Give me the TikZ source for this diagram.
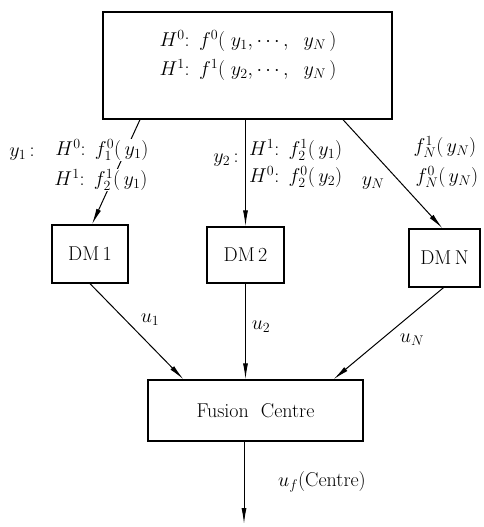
\documentclass[tikz,border=0pt]{standalone}
\usepackage{fix-cm}
\usetikzlibrary{arrows.meta,calc}
\begin{document}
\begin{tikzpicture}[x=1pt,y=-1pt,
  every node/.style={font=\fontsize{20}{24}\selectfont},
  box/.style={draw,line width=1.3pt,inner sep=0pt,anchor=center},
  conn/.style={line width=1pt,-{Latex[length=16pt,width=5pt]}},
  lbl/.style={inner sep=0pt},
  wlbl/.style={inner sep=0.5pt,fill=white}]
\useasboundingbox (0,0) rectangle (484,527);
% boxes
\node[box,minimum width=289pt,minimum height=107pt] (top) at (247.5,65.5) {};
\node[lbl] (t1) at (248,41) {$H^0\colon\ f^0(\;y_1,\cdots,\;\ y_N\,)$};
\node[lbl] (t2) at (248,70) {$H^1\colon\ f^1(\;y_2,\cdots,\;\ y_N\,)$};
\node[box,minimum width=76pt,minimum height=58pt] (dm1) at (90,254) {DM\,1};
\node[box,minimum width=77pt,minimum height=56pt] (dm2) at (245.5,255) {DM\,2};
\node[box,minimum width=71pt,minimum height=58pt] (dmn) at (444.5,258) {DM\,N};
\node[box,minimum width=215pt,minimum height=61pt] (fc) at (255.5,410.5) {Fusion\ \ Centre};
\coordinate (out) at (244,524);
% connectors from top box
\draw[conn] ([xshift=-107.5pt]top.south) -- ([xshift=2pt]dm1.north);
\draw[conn] (dm2.north |- top.south) -- (dm2.north);
\draw[conn] ([xshift=95.5pt]top.south) -- ([xshift=-2pt]dmn.north);
% connectors to fusion centre
\draw[conn] (dm1.south) -- ([xshift=-72pt]fc.north);
\draw[conn] (dm2.south) -- (dm2.south |- fc.north);
\draw[conn] ([xshift=-1pt]dmn.south) -- ([xshift=78pt]fc.north);
\draw[conn] ([xshift=-11.5pt]fc.south) -- (out);
% labels
\node[lbl] (ly1) at (22,154) {$y_1\,$:};
\node[wlbl] (l11) at (102,150) {$H^0\colon\ f_1^0(\,y_1)$};
\node[wlbl] (l12) at (101,180) {$H^1\colon\ f_2^1(\,y_1)$};
\node[lbl] (ly2) at (226,160) {$y_2\,$:};
\node[lbl,anchor=west] (l21) at (249,150) {$H^1\colon\ f_2^1(\,y_1)$};
\node[lbl,anchor=west] (l22) at (249,177) {$H^0\colon\ f_2^0(\,y_2)$};
\node[lbl] (lyn) at (373,183) {$y_N$};
\node[lbl] (ln1) at (445,147) {$f_N^1(\,y_N)$};
\node[lbl] (ln2) at (447,177) {$f_N^0(\,y_N)$};
\node[lbl] (lu1) at (150,320) {$u_1$};
\node[lbl] (lu2) at (261,327) {$u_2$};
\node[lbl] (lun) at (412,340) {$u_N$};
\node[lbl] (luf) at (322,482) {$u_f$(Centre)};
\end{tikzpicture}
\end{document}
